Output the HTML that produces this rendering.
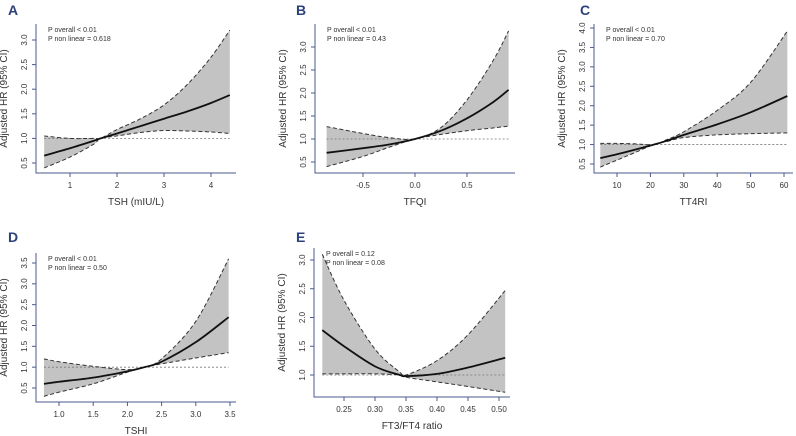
<!DOCTYPE html>
<html><head><meta charset="utf-8"><style>
html,body{margin:0;padding:0;background:#fff;}
svg{display:block;font-family:"Liberation Sans",sans-serif;}
.tk{font-size:8px;fill:#333;}
.ann{font-size:7px;fill:#333;}
.ttl{font-size:10px;fill:#333;}
.let{font-size:14px;font-weight:bold;fill:#2d417a;}
</style></head><body>
<svg id="fig" width="796" height="436" viewBox="0 0 796 436"></svg>
<script>
// Panel A: TSH
const aX=[0.45,1,1.5,1.65,2,2.5,3,3.5,4,4.4];
const aEst=[0.65,0.8,0.95,1.0,1.1,1.25,1.4,1.55,1.72,1.88];
const aLo=[0.4,0.62,0.88,1.0,1.05,1.12,1.16,1.15,1.13,1.1];
const aHi=[1.05,1.0,1.0,1.0,1.18,1.4,1.68,2.1,2.65,3.2];
const aXTicks=[1,2,3,4];
const aYTicks=[0.5,1.0,1.5,2.0,2.5,3.0];
// Panel B: TFQI
const bX=[-0.85,-0.5,-0.25,0,0.25,0.5,0.75,0.9];
const bEst=[0.7,0.8,0.88,1.0,1.18,1.45,1.8,2.07];
const bLo=[0.4,0.62,0.82,1.0,1.1,1.18,1.24,1.28];
const bHi=[1.27,1.12,1.03,1.0,1.25,1.85,2.7,3.35];
const bXTicks=[-0.5,0.0,0.5];
const bYTicks=[0.5,1.0,1.5,2.0,2.5,3.0];
// Panel C: TT4RI
const cX=[5,10,15,21,25,30,40,50,61];
const cEst=[0.65,0.75,0.86,1.0,1.1,1.25,1.52,1.83,2.25];
const cLo=[0.42,0.6,0.78,1.0,1.08,1.18,1.25,1.28,1.3];
const cHi=[1.03,1.03,1.02,1.0,1.13,1.33,1.88,2.6,3.92];
const cXTicks=[10,20,30,40,50,60];
const cYTicks=[0.5,1.0,1.5,2.0,2.5,3.0,3.5,4.0];
// Panel D: TSHI
const dX=[0.78,1.0,1.5,2.0,2.25,2.5,3.0,3.48];
const dEst=[0.6,0.65,0.75,0.9,1.0,1.13,1.6,2.2];
const dLo=[0.3,0.4,0.6,0.88,1.0,1.08,1.22,1.35];
const dHi=[1.2,1.13,1.02,0.94,1.0,1.2,2.1,3.6];
const dXTicks=[1.0,1.5,2.0,2.5,3.0,3.5];
const dYTicks=[0.5,1.0,1.5,2.0,2.5,3.0,3.5];
// Panel E: FT3/FT4 ratio
const eX=[0.215,0.25,0.30,0.34,0.35,0.40,0.45,0.51];
const eEst=[1.78,1.5,1.15,1.0,0.98,1.02,1.13,1.3];
const eLo=[1.02,1.02,1.02,1.0,0.96,0.88,0.8,0.7];
const eHi=[3.1,2.3,1.45,1.05,1.0,1.25,1.7,2.47];
const eXTicks=[0.25,0.30,0.35,0.40,0.45,0.50];
const eYTicks=[1.0,1.5,2.0,2.5,3.0];

const NS='http://www.w3.org/2000/svg';
const svg=document.getElementById('fig');
function mk(tag,attrs,parent,txt){const e=document.createElementNS(NS,tag);for(const k in attrs)e.setAttribute(k,attrs[k]);if(txt!==undefined)e.textContent=txt;(parent||svg).appendChild(e);return e;}
function lin(d0,d1,r0,r1){return v=>r0+(v-d0)*(r1-r0)/(d1-d0);}
function smooth(pts){let d='M'+pts[0][0]+','+pts[0][1];for(let i=0;i<pts.length-1;i++){const p0=pts[i-1]||pts[i],p1=pts[i],p2=pts[i+1],p3=pts[i+2]||p2;const c1x=p1[0]+(p2[0]-p0[0])/6,c1y=p1[1]+(p2[1]-p0[1])/6,c2x=p2[0]-(p3[0]-p1[0])/6,c2y=p2[1]-(p3[1]-p1[1])/6;d+=' C'+c1x+','+c1y+' '+c2x+','+c2y+' '+p2[0]+','+p2[1];}return d;}
function fmt(v,dec){return v.toFixed(dec);}

function panel(p){
  const g=mk('g',{},svg);
  
  
  const sx=lin(p.xt[0],p.xt[1],p.xp[0],p.xp[1]);
  const sy=lin(p.yt[0],p.yt[1],p.yp[0],p.yp[1]);
  const hi=p.x.map((v,i)=>[sx(v),sy(p.hi[i])]);
  const lo=p.x.map((v,i)=>[sx(v),sy(p.lo[i])]);
  const est=p.x.map((v,i)=>[sx(v),sy(p.est[i])]);
  const loRev=lo.slice().reverse();
  const band=mk('path',{d:smooth(hi)+' L'+loRev[0][0]+','+loRev[0][1]+smooth(loRev).replace(/^M[^C]*/,' ')+' Z',fill:'#c3c3c3',stroke:'none'},g);
  
  
  const ref=mk('line',{x1:sx(p.x[0]),x2:sx(p.x[p.x.length-1]),y1:sy(1),y2:sy(1),stroke:'#777','stroke-width':0.8,'stroke-dasharray':'2,2'},g);
  
  
  const u=mk('path',{d:smooth(hi),fill:'none',stroke:'#333','stroke-width':1,'stroke-dasharray':'4,2.5'},g);
  
  
  const l=mk('path',{d:smooth(lo),fill:'none',stroke:'#333','stroke-width':1,'stroke-dasharray':'4,2.5'},g);
  
  
  const e=mk('path',{d:smooth(est),fill:'none',stroke:'#111','stroke-width':1.8},g);
  
  
  const ax=mk('path',{d:'M'+p.left+','+p.top+' L'+p.left+','+p.bottom+' L'+p.right+','+p.bottom,fill:'none',stroke:'#4a5a8c','stroke-width':1},g);
  
  
  p.xticks.forEach(v=>{const X=sx(v);mk('line',{x1:X,x2:X,y1:p.bottom,y2:p.bottom+4,stroke:'#4a5a8c'},g);
    const t=mk('text',{x:X,y:p.bottom+15,'text-anchor':'middle',class:'tk'},g,fmt(v,p.xdec));
    
    });
  p.yticks.forEach(v=>{const Y=sy(v);mk('line',{x1:p.left-4,x2:p.left,y1:Y,y2:Y,stroke:'#4a5a8c'},g);
    const t=mk('text',{x:p.left-9,y:Y,'text-anchor':'middle',class:'tk',transform:'rotate(-90 '+(p.left-9)+' '+Y+')'},g,fmt(v,1));
    
    });
  const xt=mk('text',{x:(p.left+p.right)/2,y:p.bottom+32,'text-anchor':'middle',class:'ttl'},g,p.xlabel);
  
  
  const yc=(p.top+p.bottom)/2, yx=p.left-29;
  const yt=mk('text',{x:yx,y:yc,'text-anchor':'middle',class:'ttl',transform:'rotate(-90 '+yx+' '+yc+')'},g,'Adjusted HR (95% CI)');
  
  
  const a1=mk('text',{x:p.left+12,y:p.top+8,class:'ann'},g,p.p1);
  
  
  const a2=mk('text',{x:p.left+12,y:p.top+17,class:'ann'},g,p.p2);
  
  
  const lt=mk('text',{x:p.lx,y:p.ly,class:'let'},g,p.id);
  
  
}
panel({id:'A',x:aX,est:aEst,lo:aLo,hi:aHi,xticks:aXTicks,yticks:aYTicks,xdec:0,xt:[1,4],xp:[70,211],yt:[0.5,3.0],yp:[163,40],left:36,right:236,top:24,bottom:173,xlabel:'TSH (mIU/L)',p1:'P overall < 0.01',p2:'P non linear = 0.618',lx:8,ly:15});
panel({id:'B',x:bX,est:bEst,lo:bLo,hi:bHi,xticks:bXTicks,yticks:bYTicks,xdec:1,xt:[-0.5,0.5],xp:[363,467],yt:[0.5,3.0],yp:[162,47],left:315,right:515,top:24,bottom:173,xlabel:'TFQI',p1:'P overall < 0.01',p2:'P non linear = 0.43',lx:296,ly:15});
panel({id:'C',x:cX,est:cEst,lo:cLo,hi:cHi,xticks:cXTicks,yticks:cYTicks,xdec:0,xt:[10,60],xp:[617,784],yt:[0.5,4.0],yp:[164,28],left:594,right:793,top:24,bottom:173,xlabel:'TT4RI',p1:'P overall < 0.01',p2:'P non linear = 0.70',lx:580,ly:15});
panel({id:'D',x:dX,est:dEst,lo:dLo,hi:dHi,xticks:dXTicks,yticks:dYTicks,xdec:1,xt:[1.0,3.5],xp:[59,230],yt:[0.5,3.5],yp:[388,263],left:36,right:236,top:253,bottom:402,xlabel:'TSHI',p1:'P overall < 0.01',p2:'P non linear = 0.50',lx:8,ly:242});
panel({id:'E',x:eX,est:eEst,lo:eLo,hi:eHi,xticks:eXTicks,yticks:eYTicks,xdec:2,xt:[0.25,0.50],xp:[344,499],yt:[1.0,3.0],yp:[375,260],left:314,right:510,top:248,bottom:397,xlabel:'FT3/FT4 ratio',p1:'P overall = 0.12',p2:'P non linear = 0.08',lx:296,ly:242});
</script>
</body></html>
